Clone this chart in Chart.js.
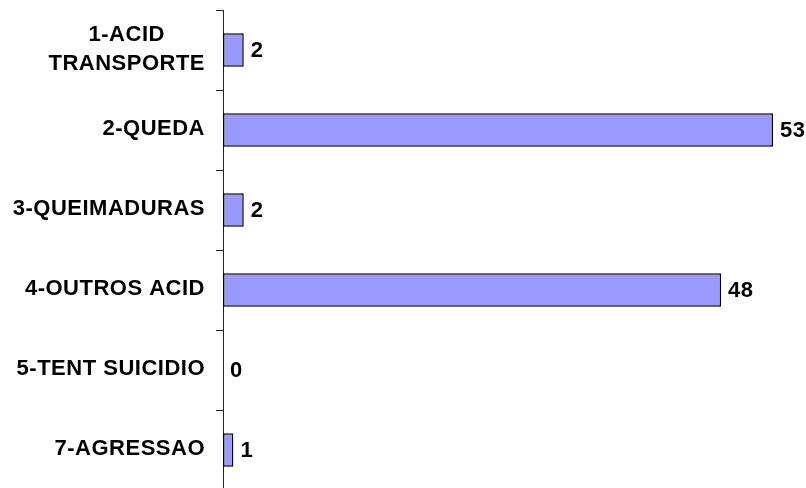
<!DOCTYPE html>
<html>
<head>
<meta charset="utf-8">
<script src="https://cdn.jsdelivr.net/npm/chart.js@4/dist/chart.umd.min.js"></script>
<style>
  html, body { margin: 0; padding: 0; background: #fff; overflow: hidden; }
  canvas { display: block; }
</style>
</head>
<body>
<canvas id="grafico" width="806" height="492"></canvas>
<script>
// categorias e quantidades por tipo de causa
const categorias = [
    ["1-ACID", "TRANSPORTE"],
    ["2-QUEDA"],
    ["3-QUEIMADURAS"],
    ["4-OUTROS ACID"],
    ["5-TENT SUICIDIO"],
    ["7-AGRESSAO"]
];
const quantidades = [2, 53, 2, 48, 0, 1];

const fonte = "bold 22px 'Liberation Sans', Arial, sans-serif";

// rótulos das categorias: bloco alinhado à direita, linhas centralizadas entre si
const rotulosCategorias = {
    id: "rotulosCategorias",
    afterDraw(chart) {
        const ctx = chart.ctx;
        const y = chart.scales.y;
        const direita = y.right - 18;
        ctx.save();
        ctx.font = fonte;
        ctx.letterSpacing = "0.5px";
        ctx.fillStyle = "#000";
        ctx.textAlign = "center";
        ctx.textBaseline = "middle";
        categorias.forEach((linhas, i) => {
            const largura = Math.max(...linhas.map(l => ctx.measureText(l).width));
            const cx = direita - largura / 2;
            const cy = y.getPixelForValue(i);
            const alt = 29;
            linhas.forEach((l, j) => {
                ctx.fillText(l, cx, cy - 1 + (j - (linhas.length - 1) / 2) * alt);
            });
        });
        ctx.restore();
    }
};

// valor escrito no fim de cada barra
const rotulosValores = {
    id: "rotulosValores",
    afterDatasetsDraw(chart) {
        const ctx = chart.ctx;
        const meta = chart.getDatasetMeta(0);
        ctx.save();
        ctx.font = fonte;
        ctx.letterSpacing = "0.5px";
        ctx.fillStyle = "#000";
        ctx.textAlign = "left";
        ctx.textBaseline = "middle";
        meta.data.forEach((barra, i) => {
            ctx.fillText(String(quantidades[i]), barra.x + 7, barra.y + 1);
        });
        ctx.restore();
    }
};

new Chart(document.getElementById("grafico"), {
    type: "bar",
    data: {
        labels: categorias,
        datasets: [{
            data: quantidades,
            backgroundColor: "#9999ff",
            borderColor: "#000",
            borderWidth: 1.5,
            borderSkipped: false,
            categoryPercentage: 1,
            barPercentage: 0.42
        }]
    },
    options: {
        indexAxis: "y",
        responsive: false,
        animation: false,
        layout: { padding: { top: 10, bottom: 2, right: 33, left: 0 } },
        plugins: {
            legend: { display: false },
            tooltip: { enabled: false }
        },
        scales: {
            x: {
                display: false,
                min: 0,
                max: 53
            },
            y: {
                grid: {
                    offset: true,
                    drawOnChartArea: false,
                    drawTicks: true,
                    tickLength: 7,
                    color: "#222"
                },
                border: { display: true, color: "#222", width: 1 },
                ticks: { display: false },
                afterFit(scale) { scale.width = 223; }
            }
        }
    },
    plugins: [rotulosCategorias, rotulosValores]
});
</script>
</body>
</html>
